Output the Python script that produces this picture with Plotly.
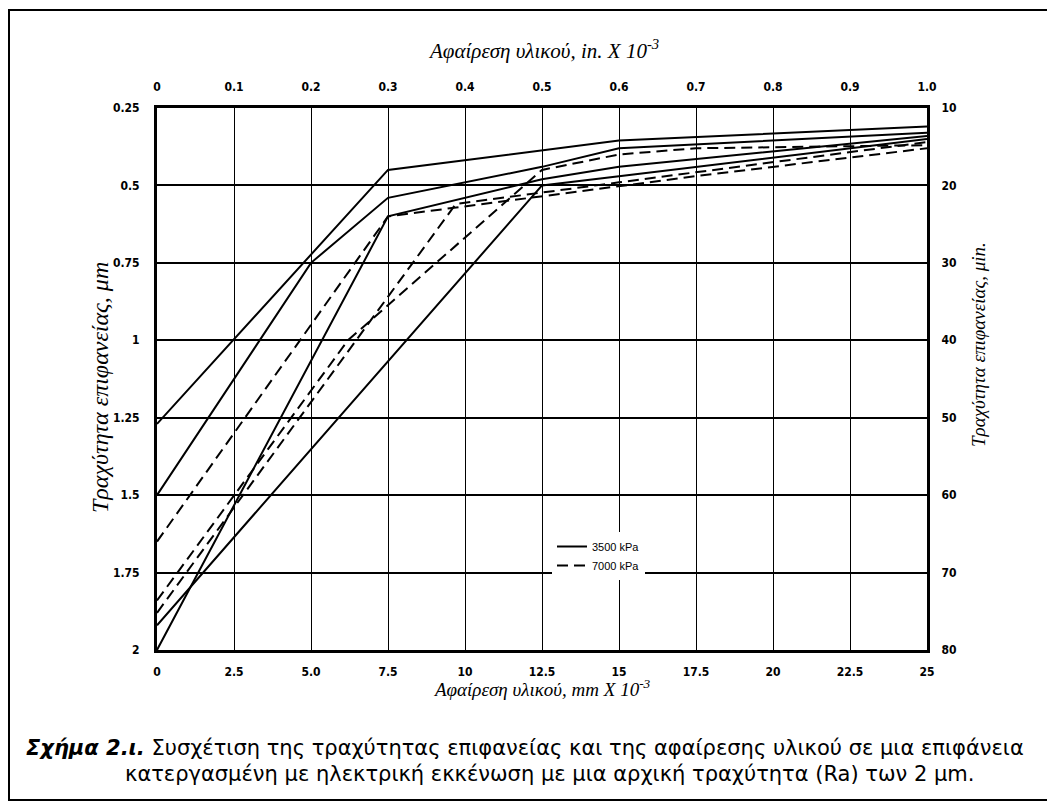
import plotly.graph_objects as go

# ---------------- data ----------------
mm_ticks = [0, 2.5, 5, 7.5, 10, 12.5, 15, 17.5, 20, 22.5, 25]
mm_ticktext = ["0", "2.5", "5.0", "7.5", "10", "12.5", "15", "17.5", "20", "22.5", "25"]
in_ticks = [0, 0.1, 0.2, 0.3, 0.4, 0.5, 0.6, 0.7, 0.8, 0.9, 1.0]
in_ticktext = ["0", "0.1", "0.2", "0.3", "0.4", "0.5", "0.6", "0.7", "0.8", "0.9", "1.0"]
um_ticks = [0.25, 0.5, 0.75, 1, 1.25, 1.5, 1.75, 2]
um_ticktext = ["0.25", "0.5", "0.75", "1", "1.25", "1.5", "1.75", "2"]
uin_ticks = [10, 20, 30, 40, 50, 60, 70, 80]

# 3500 kPa (solid)
s1_x = [0, 7.5, 15, 25]
s1_y = [1.27, 0.45, 0.355, 0.31]
s2_x = [0, 5, 7.5, 12.5, 15, 25]
s2_y = [1.5, 0.75, 0.54, 0.44, 0.38, 0.33]
s3_x = [0, 7.5, 12.5, 15, 25]
s3_y = [2.0, 0.6, 0.48, 0.44, 0.34]
s4_x = [0, 12.5, 15, 25]
s4_y = [1.92, 0.50, 0.47, 0.35]

# 7000 kPa (dashed)
d1_x = [0, 7.5, 17.5, 25]
d1_y = [1.65, 0.60, 0.47, 0.38]
d2_x = [0, 6.2, 12.5, 15, 17.5, 25]
d2_y = [1.84, 1.0, 0.45, 0.40, 0.38, 0.37]
d3_x = [0, 9.7, 15, 25]
d3_y = [1.88, 0.56, 0.49, 0.36]

solid = [(s1_x, s1_y), (s2_x, s2_y), (s3_x, s3_y), (s4_x, s4_y)]
dashed = [(d1_x, d1_y), (d2_x, d2_y), (d3_x, d3_y)]

# ---------------- geometry (page pixels; page body has an 8px offset) ----------------
OFF = 8
W, H = 1055 - OFF, 808 - OFF
L, R, T, B = 157 - OFF, 927 - OFF, 108 - OFF, 650 - OFF


def px(x):
    return (x - OFF - L) / (R - L)


def py(y):
    return (B - (y - OFF)) / (B - T)


fig = go.Figure()
for i, (xs, ys) in enumerate(solid):
    fig.add_trace(go.Scatter(x=xs, y=ys, mode="lines",
                             line=dict(color="black", width=2),
                             name="3500 kPa", legendgroup="a",
                             showlegend=(i == 0), hoverinfo="skip"))
for i, (xs, ys) in enumerate(dashed):
    fig.add_trace(go.Scatter(x=xs, y=ys, mode="lines",
                             line=dict(color="black", width=2, dash="11px,6px"),
                             name="7000 kPa", legendgroup="b",
                             showlegend=(i == 0), hoverinfo="skip"))
# secondary axes carrier (invisible)
fig.add_trace(go.Scatter(x=[in_ticks[0], in_ticks[-1]], y=[uin_ticks[0], uin_ticks[-1]],
                         xaxis="x2", yaxis="y2", mode="lines",
                         line=dict(width=0, color="rgba(0,0,0,0)"),
                         showlegend=False, hoverinfo="skip"))

tickfont = dict(family="Liberation Sans Narrow, DejaVu Sans Condensed, Arial", size=12,
                color="black", weight="bold")
serif = "Liberation Serif, Times New Roman, serif"

fig.update_layout(
    width=W, height=H,
    margin=dict(l=L, r=W - R, t=T, b=H - B, pad=0),
    paper_bgcolor="white", plot_bgcolor="white",
    showlegend=True,
    legend=dict(x=px(552), y=py(532), xanchor="left", yanchor="top",
                bgcolor="white", borderwidth=0, tracegroupgap=0,
                font=dict(family="Liberation Sans, Arial", size=11, color="black")),
    xaxis=dict(range=[0, 25], tickvals=mm_ticks, ticktext=mm_ticktext,
               showgrid=True, gridcolor="black", gridwidth=1.2,
               showline=True, linecolor="black", linewidth=3, mirror=False,
               ticks="", ticklabelstandoff=9, tickfont=tickfont, zeroline=False),
    xaxis2=dict(range=[0, 1.0], tickvals=in_ticks, ticktext=in_ticktext,
                overlaying="x", side="top", showgrid=False,
                showline=True, linecolor="black", linewidth=3,
                ticks="", ticklabelstandoff=9, tickfont=tickfont, zeroline=False),
    yaxis=dict(range=[2, 0.25], tickvals=um_ticks, ticktext=um_ticktext,
               showgrid=True, gridcolor="black", gridwidth=2,
               showline=True, linecolor="black", linewidth=3,
               ticks="", ticklabelstandoff=12, tickfont=tickfont, zeroline=False),
    yaxis2=dict(range=[80, 10], tickvals=uin_ticks,
                overlaying="y", side="right", showgrid=False,
                showline=True, linecolor="black", linewidth=3,
                ticks="", ticklabelstandoff=9, tickfont=tickfont, zeroline=False),
)

annotations = [
    dict(text="Αφαίρεση υλικού, mm X 10<sup>-3</sup>", x=px(542), y=py(688),
         xanchor="center", yanchor="middle",
         font=dict(family=serif, size=19, color="black", style="italic")),
    dict(text="Αφαίρεση υλικού, in. X 10<sup>-3</sup>", x=px(543), y=py(50),
         xanchor="center", yanchor="middle",
         font=dict(family=serif, size=21, color="black", style="italic")),
    dict(text="Τραχύτητα επιφανείας, μm", x=px(100), y=py(388), textangle=-90,
         xanchor="center", yanchor="middle",
         font=dict(family=serif, size=24, color="black", style="italic")),
    dict(text="Τραχύτητα επιφανείας, μin.", x=px(978), y=py(345), textangle=-90,
         xanchor="center", yanchor="middle",
         font=dict(family=serif, size=19, color="black", style="italic")),
    dict(text="<b><i>Σχήμα 2.ι.</i></b> Συσχέτιση της τραχύτητας επιφανείας και της αφαίρεσης υλικού σε μια επιφάνεια",
         x=px(24), y=py(748), xanchor="left", yanchor="middle",
         font=dict(family="DejaVu Sans, Arial", size=21, color="black")),
    dict(text="κατεργασμένη με ηλεκτρική εκκένωση με μια αρχική τραχύτητα (Ra) των 2 μm.",
         x=px(123), y=py(774), xanchor="left", yanchor="middle",
         font=dict(family="DejaVu Sans, Arial", size=21, color="black")),
]
for a in annotations:
    a.update(xref="paper", yref="paper", showarrow=False)
fig.update_layout(annotations=annotations)

# outer frame of the figure
fig.add_shape(type="rect", xref="paper", yref="paper",
              x0=px(9), x1=px(1049), y0=py(800), y1=py(10),
              line=dict(color="black", width=2), layer="below")

fig.write_html("out.html")
